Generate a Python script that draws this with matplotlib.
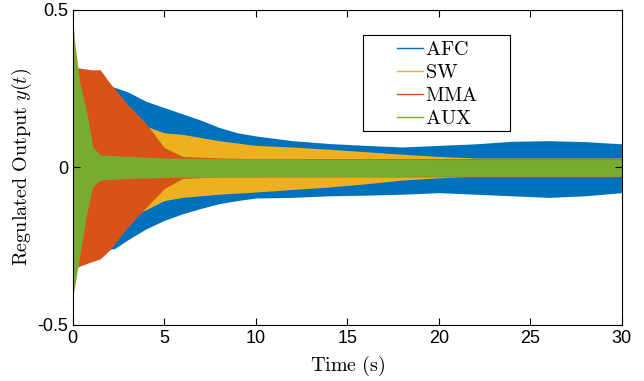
import numpy as np
import matplotlib.pyplot as plt
from matplotlib.lines import Line2D
from matplotlib.patches import Rectangle

plt.rcParams['mathtext.fontset'] = 'cm'
plt.rcParams['font.family'] = ['Liberation Sans', 'DejaVu Sans']

# envelope of each response (upper / lower bounds)
afc_t = [0, 1, 2, 2.3, 3, 4, 5, 6, 7, 8, 9, 10, 12, 14, 16, 18, 20, 22, 24, 26, 28, 30]
afc_hi = [0.30, 0.28, 0.26, 0.254, 0.24, 0.21, 0.19, 0.17, 0.15, 0.127, 0.11, 0.10,
          0.085, 0.076, 0.07, 0.065, 0.07, 0.075, 0.083, 0.085, 0.082, 0.075]
afc_lo = [-0.30, -0.28, -0.26, -0.257, -0.23, -0.195, -0.168, -0.147, -0.13, -0.115, -0.105, -0.097,
          -0.095, -0.09, -0.088, -0.085, -0.08, -0.085, -0.09, -0.095, -0.09, -0.08]

sw_t = [0, 2, 3.9, 5, 6, 8, 10, 12, 14, 16, 18, 20, 22, 26, 30]
sw_hi = [0.2, 0.18, 0.133, 0.11, 0.105, 0.085, 0.07, 0.065, 0.058, 0.05, 0.042, 0.035, 0.03, 0.03, 0.03]
sw_lo = [-0.2, -0.18, -0.137, -0.105, -0.095, -0.085, -0.078, -0.07, -0.062, -0.052, -0.04, -0.033,
         -0.028, -0.028, -0.028]

mma_t = [0, 0.2, 1, 1.5, 2, 3, 4, 5, 6, 8, 10, 20, 30]
mma_hi = [0.33, 0.317, 0.31, 0.31, 0.27, 0.20, 0.14, 0.063, 0.035, 0.03, 0.028, 0.028, 0.028]
mma_lo = [-0.32, -0.317, -0.30, -0.29, -0.263, -0.19, -0.127, -0.067, -0.035, -0.03, -0.03, -0.03, -0.03]

aux_t = [0, 0.1, 0.38, 0.75, 1.1, 1.5, 3, 5, 10, 20, 30]
aux_hi = [0.47, 0.40, 0.27, 0.18, 0.064, 0.04, 0.035, 0.03, 0.027, 0.025, 0.025]
aux_lo = [-0.41, -0.38, -0.28, -0.15, -0.06, -0.04, -0.035, -0.032, -0.03, -0.028, -0.028]

names = ['AFC', 'SW', 'MMA', 'AUX']
colors = ['#0072BD', '#EDB120', '#D95319', '#77AC30']

fig = plt.figure(figsize=(6.44, 3.81), dpi=100)
ax = fig.add_axes([0.113, 0.147, 0.8525, 0.827])

series = [(afc_t, afc_hi, afc_lo), (sw_t, sw_hi, sw_lo), (mma_t, mma_hi, mma_lo), (aux_t, aux_hi, aux_lo)]
for (t, hi, lo), c in zip(series, colors):
    ax.fill_between(t, lo, hi, color=c, linewidth=0)

ax.set_xlim(0, 30)
ax.set_ylim(-0.5, 0.5)
ax.set_xticks([0, 5, 10, 15, 20, 25, 30])
ax.set_yticks([-0.5, 0, 0.5])
ax.set_yticklabels(['-0.5', '0', '0.5'])
ax.tick_params(direction='in', top=True, right=True, labelsize=13, length=5, width=0.8)
for s in ax.spines.values():
    s.set_linewidth(0.8)

ax.set_xlabel(r'$\mathrm{Time\ (s)}$', fontsize=14.5, labelpad=5)
ax.set_ylabel(r'$\mathrm{Regulated\ Output}\ y(t)$', fontsize=14.5, labelpad=2)

# legend box is drawn separately to get MATLAB's wide padding
ax.add_patch(Rectangle((0.528, 0.616), 0.268, 0.305, transform=ax.transAxes,
                       facecolor='white', edgecolor='black', linewidth=0.8, zorder=4))
handles = [Line2D([], [], color=c, lw=1) for c in colors]
leg = ax.legend(handles, [r'$\mathrm{%s}$' % n for n in names], loc='upper left',
                bbox_to_anchor=(0.590, 0.905), fontsize=14.5, handlelength=1.3,
                handletextpad=0.1, labelspacing=0.2, borderpad=0, borderaxespad=0,
                frameon=False)
leg.set_zorder(5)

plt.savefig('out.png', dpi=100)
